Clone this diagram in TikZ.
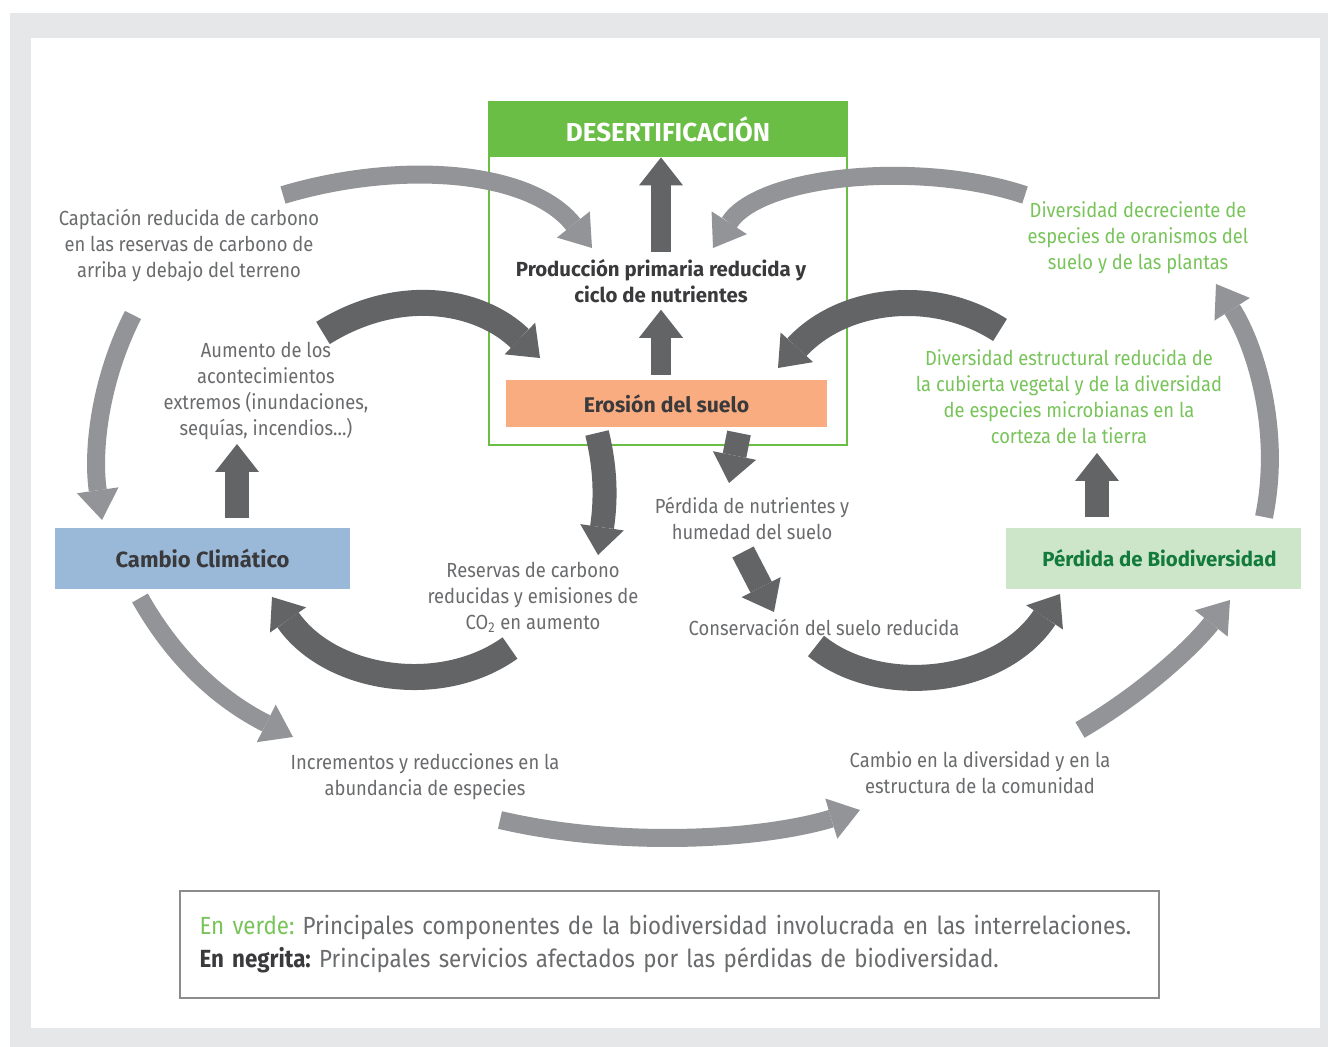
\documentclass[tikz,border=0pt]{standalone}
\usepackage{fontspec}
\setmainfont{Fira Sans}
\newfontfamily\thinfont{Fira Sans}[FakeStretch=0.9]
\usetikzlibrary{arrows.meta}
\frenchspacing

\definecolor{bggray}{HTML}{E6E7E8}
\definecolor{desgreen}{HTML}{6ABD45}
\definecolor{eroorange}{HTML}{F8AC7F}
\definecolor{ccblue}{HTML}{9AB8D8}
\definecolor{bdgreen}{HTML}{CDE6CA}
\definecolor{bdtext}{HTML}{127A3B}
\definecolor{txtgray}{HTML}{6A6B6D}
\definecolor{bldgray}{HTML}{3A3A3C}
\definecolor{lgreen}{HTML}{78C45A}
\definecolor{arrlight}{HTML}{929497}
\definecolor{arrdark}{HTML}{636466}
\definecolor{leggray}{HTML}{8C8C8C}

\tikzset{
  txt/.style={align=center, text=txtgray, font=\thinfont\fontsize{10.2}{13}\selectfont},
  grntxt/.style={txt, text=lgreen},
  boldtxt/.style={align=center, text=bldgray, font=\fontsize{10.2}{13}\selectfont\bfseries},
  keybox/.style={boldtxt, minimum width=147.5pt, minimum height=30.5pt},
  lightarrow/.style={draw=arrlight, line width=9pt,
    -{Triangle[width=21pt,length=15pt,line width=0pt]}},
  darkarrow/.style={draw=arrdark, line width=12pt,
    -{Triangle[width=22pt,length=14pt,line width=0pt]}},
}

\begin{document}
\begin{tikzpicture}[x=0.5pt,y=-0.5pt]
  \useasboundingbox (0,0) rectangle (1328,1047);
  \fill[bggray] (10,13) rectangle (1328,1047);
  \fill[white] (31,38) rectangle (1320,1028);

  % central block
  \draw[desgreen, line width=1pt] (489,102) rectangle (847,445);
  \node[fill=desgreen, minimum width=179pt, minimum height=27.5pt, text=white,
    font=\fontsize{13}{15}\selectfont\bfseries] (des) at (668,129.5) {DESERTIFICACIÓN};
  \node[boldtxt] (prod) at (661,281) {Producción primaria reducida y\\ciclo de nutrientes};
  \node[boldtxt, fill=eroorange, minimum width=160.5pt, minimum height=23.5pt,
    font=\fontsize{10.6}{13}\selectfont\bfseries] (ero) at (666.5,403.5) {Erosión del suelo};

  % side boxes
  \node[keybox, fill=ccblue, font=\fontsize{11}{13}\selectfont\bfseries] (cc) at (202.5,558.5) {Cambio Climático};
  \node[keybox, fill=bdgreen, text=bdtext] (bd) at (1153.5,558.5) {\hspace*{6pt}Pérdida de Biodiversidad};

  % texts
  \node[txt] (capt) at (189,246) {Captación reducida de carbono\\en las reservas de carbono de\\arriba y debajo del terreno};
  \node[txt] (aum) at (266,391) {Aumento de los\\acontecimientos\\extremos (inundaciones,\\sequías, incendios...)};
  \node[grntxt] (divdec) at (1138,238) {Diversidad decreciente de\\especies de oranismos del\\suelo y de las plantas};
  \node[grntxt] (divest) at (1069,397) {Diversidad estructural reducida de\\la cubierta vegetal y de la diversidad\\de especies microbianas en la\\corteza de la tierra};
  \node[txt] (nutr) at (752,518) {Pérdida de nutrientes y\\humedad del suelo};
  \node[txt] (res) at (533,597) {Reservas de carbono\\reducidas y emisiones de\\CO\textsubscript{2} en aumento};
  \node[txt] (cons) at (824,627) {Conservación del suelo reducida};
  \node[txt] (incr) at (425,777) {Incrementos y reducciones en la\\abundancia de especies};
  \node[txt] (camb) at (980,773) {Cambio en la diversidad y en la\\estructura de la comunidad};

  % legend
  \node[draw=leggray, line width=0.7pt, minimum width=489.5pt, minimum height=53.5pt,
    text width=470pt, align=left, text=txtgray, font=\thinfont\fontsize{12.4}{16.5}\selectfont] (leg) at (669.5,944.5)
    {\textcolor{lgreen}{En verde:} Principales componentes de la biodiversidad involucrada en las interrelaciones.\\
     \textcolor{bldgray}{\textbf{En negrita:}} Principales servicios afectados por las pérdidas de biodiversidad.};

  % arrow ends
  \coordinate (c1a) at (283,195);   \coordinate (c1b) at (592,248);
  \coordinate (c2a) at (1025,195);  \coordinate (c2b) at (713,248);
  \coordinate (c3a) at (133,315);   \coordinate (c3b) at (102,520);
  \coordinate (c4a) at (1264,517);  \coordinate (c4b) at (1216,284);
  \coordinate (c5a) at (140,598);   \coordinate (c5b) at (293,737);
  \coordinate (c6a) at (500,820);   \coordinate (c6b) at (860,810);
  \coordinate (c7a) at (1080,730);  \coordinate (c7b) at (1230,600);
  \coordinate (d1a) at (323,333);   \coordinate (d1b) at (540,358);
  \coordinate (d2a) at (1000,330);  \coordinate (d2b) at (778,368);
  \coordinate (d3a) at (237,518);   \coordinate (d3b) at (237,444);
  \coordinate (d4a) at (1097,517);  \coordinate (d4b) at (1097,453);
  \coordinate (d5a) at (597,433);   \coordinate (d5b) at (598,555);
  \coordinate (d6a) at (739,433);   \coordinate (d6b) at (729,483);
  \coordinate (d7a) at (743,552);   \coordinate (d7b) at (774,612);
  \coordinate (d8a) at (510,648);   \coordinate (d8b) at (272,597);
  \coordinate (d9a) at (816,646);   \coordinate (d9b) at (1060,594);

  % light arrows
  \draw[lightarrow] (c1a) .. controls (400,160) and (530,170) .. (c1b);
  \draw[lightarrow] (c2a) .. controls (920,160) and (760,175) .. (c2b);
  \draw[lightarrow] (c3a) .. controls (100,380) and (92,450) .. (c3b);
  \draw[lightarrow] (c4a) .. controls (1282,430) and (1255,345) .. (c4b);
  \draw[lightarrow] (c5a) .. controls (175,660) and (220,700) .. (c5b);
  \draw[lightarrow] (c6a) .. controls (620,848) and (760,840) .. (c6b);
  \draw[lightarrow] (c7a) .. controls (1140,695) and (1190,650) .. (c7b);

  % dark arrows
  \draw[darkarrow, line width=10pt] (prod.north) -- (prod.north |- des.south);
  \draw[darkarrow, line width=10pt, shorten <=2.5pt] (prod.south |- ero.north) -- (prod.south);
  \draw[darkarrow, line width=13pt] (d1a) .. controls (400,285) and (480,300) .. (d1b);
  \draw[darkarrow, line width=13pt] (d2a) .. controls (930,285) and (840,300) .. (d2b);
  \draw[darkarrow] (d3a) -- (d3b);
  \draw[darkarrow] (d4a) -- (d4b);
  \draw[darkarrow] (d5a) .. controls (606,470) and (606,500) .. (d5b);
  \draw[darkarrow] (d6a) -- (d6b);
  \draw[darkarrow] (d7a) -- (d7b);
  \draw[darkarrow, line width=13pt] (d8a) .. controls (440,698) and (330,680) .. (d8b);
  \draw[darkarrow, line width=13pt] (d9a) .. controls (880,698) and (1000,685) .. (d9b);
\end{tikzpicture}
\end{document}
